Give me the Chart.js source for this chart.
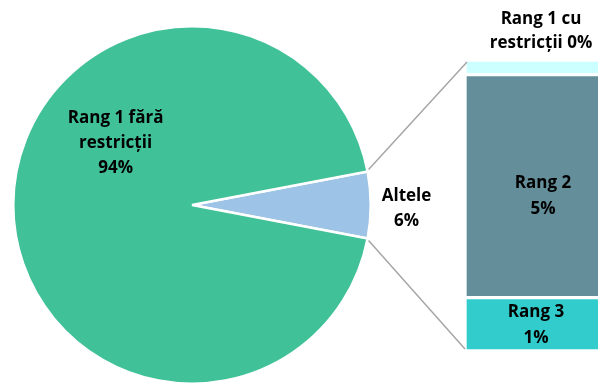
<!DOCTYPE html>
<html>
<head>
<meta charset="utf-8">
<script src="https://cdn.jsdelivr.net/npm/chart.js@4"></script>
<style>
  html, body { margin: 0; padding: 0; background: #fff; overflow: hidden; }
  #wrap { position: relative; width: 598px; height: 383px; overflow: hidden; }
  #wrap canvas { position: absolute; left: 0; top: 0; }
</style>
</head>
<body>
<div id="wrap">
  <canvas id="pie" width="598" height="390"></canvas>
  <canvas id="bar" width="620" height="383"></canvas>
</div>
<script>
// pie: main split
const pieLabels = [['Altele'], ['Rang 1 fără', 'restricții']];
const pieValues = [6, 94];
const pieColors = ['#9DC3E6', '#41C197'];

// bar: breakdown of "Altele", bottom to top
const barLabels = [['Rang 3'], ['Rang 2'], ['Rang 1 cu', 'restricții']];
const barValues = [1.1, 4.6, 0.3];
const barColors = ['#33CCCC', '#638E9A', '#CCFFFF'];

const FONT = 'bold 17px "Open Sans", sans-serif';
const pct = v => Math.round(v) + '%';

function drawLines(ctx, lines, x, y, lh) {
  ctx.save();
  ctx.font = FONT;
  ctx.fillStyle = '#000';
  ctx.textAlign = 'center';
  ctx.textBaseline = 'middle';
  const y0 = y - (lines.length - 1) * lh / 2;
  lines.forEach((t, i) => ctx.fillText(t, x, y0 + i * lh));
  ctx.restore();
}

// Altele slice centred on 3 o'clock
const altAngle = pieValues[0] / 100 * 360;

const pieLabelPlugin = {
  id: 'pieLabels',
  afterDatasetsDraw(chart) {
    const ctx = chart.ctx;
    const arcs = chart.getDatasetMeta(0).data;
    arcs.forEach((arc, i) => {
      const { x, y, outerRadius } = arc.getProps(['x', 'y', 'outerRadius'], true);
      const lines = pieLabels[i].concat([pct(pieValues[i])]);
      if (i === 0) {
        const mid = (arc.startAngle + arc.endAngle) / 2;
        drawLines(ctx, lines, x + Math.cos(mid) * outerRadius * 1.2,
          y + Math.sin(mid) * outerRadius * 1.2 + 4, 25);
      } else {
        const a = -141 * Math.PI / 180;
        drawLines(ctx, lines, x + Math.cos(a) * outerRadius * 0.55,
          y + Math.sin(a) * outerRadius * 0.55, 25);
      }
    });
  }
};

const pieChart = new Chart(document.getElementById('pie'), {
  type: 'pie',
  data: {
    labels: pieLabels,
    datasets: [{
      data: pieValues,
      backgroundColor: pieColors,
      borderColor: '#fff',
      borderWidth: 2.5
    }]
  },
  options: {
    responsive: false,
    animation: false,
    rotation: 90 - altAngle / 2,
    layout: { padding: { left: 12, top: 25, right: 226, bottom: 5 } },
    plugins: { legend: { display: false }, tooltip: { enabled: false } }
  },
  plugins: [pieLabelPlugin]
});

const barLabelPlugin = {
  id: 'barLabels',
  afterDatasetsDraw(chart) {
    const ctx = chart.ctx;
    const total = barValues.reduce((a, b) => a + b, 0);
    chart.data.datasets.forEach((ds, i) => {
      const bar = chart.getDatasetMeta(i).data[0];
      const { x, y, base } = bar.getProps(['x', 'y', 'base'], true);
      if (barValues[i] / total < 0.1) {
        // small top segment: label above the bar
        const l = barLabels[i].slice();
        l[l.length - 1] = l[l.length - 1] + ' ' + pct(barValues[i]);
        drawLines(ctx, l, x + 1, y - 29, 24);
      } else {
        drawLines(ctx, barLabels[i].concat([pct(barValues[i])]), x + (i === 1 ? 3 : -4),
          (y + base) / 2 + (i === 1 ? 10 : 1), 26);
      }
    });
  }
};

// connector lines from the Altele slice edges to the bar
const connectorPlugin = {
  id: 'connectors',
  afterDatasetsDraw(chart) {
    const arc = pieChart.getDatasetMeta(0).data[0];
    const { x, y, outerRadius, startAngle, endAngle } =
      arc.getProps(['x', 'y', 'outerRadius', 'startAngle', 'endAngle'], true);
    const top = chart.getDatasetMeta(chart.data.datasets.length - 1).data[0];
    const bottom = chart.getDatasetMeta(0).data[0];
    const left = top.x - top.width / 2 + 2;
    const ctx = chart.ctx;
    ctx.save();
    ctx.strokeStyle = '#A6A6A6';
    ctx.lineWidth = 1.5;
    ctx.beginPath();
    ctx.moveTo(x + Math.cos(startAngle) * outerRadius + 1, y + Math.sin(startAngle) * outerRadius - 2);
    ctx.lineTo(left, top.y + 2);
    ctx.moveTo(x + Math.cos(endAngle) * outerRadius + 1, y + Math.sin(endAngle) * outerRadius + 2);
    ctx.lineTo(left - 2, bottom.base - 2);
    ctx.stroke();
    ctx.restore();
  }
};

new Chart(document.getElementById('bar'), {
  type: 'bar',
  data: {
    labels: [''],
    datasets: barValues.map((v, i) => ({
      label: barLabels[i].join(' '),
      data: [v],
      backgroundColor: barColors[i],
      borderColor: '#fff',
      borderWidth: 2,
      borderSkipped: false,
      barPercentage: 1,
      categoryPercentage: 1
    }))
  },
  options: {
    responsive: false,
    animation: false,
    layout: { padding: { left: 465, top: 60, right: 5, bottom: 32 } },
    scales: {
      x: { stacked: true, display: false },
      y: { stacked: true, display: false, min: 0, max: barValues.reduce((a, b) => a + b, 0) }
    },
    plugins: { legend: { display: false }, tooltip: { enabled: false } }
  },
  plugins: [barLabelPlugin, connectorPlugin]
});
</script>
</body>
</html>
